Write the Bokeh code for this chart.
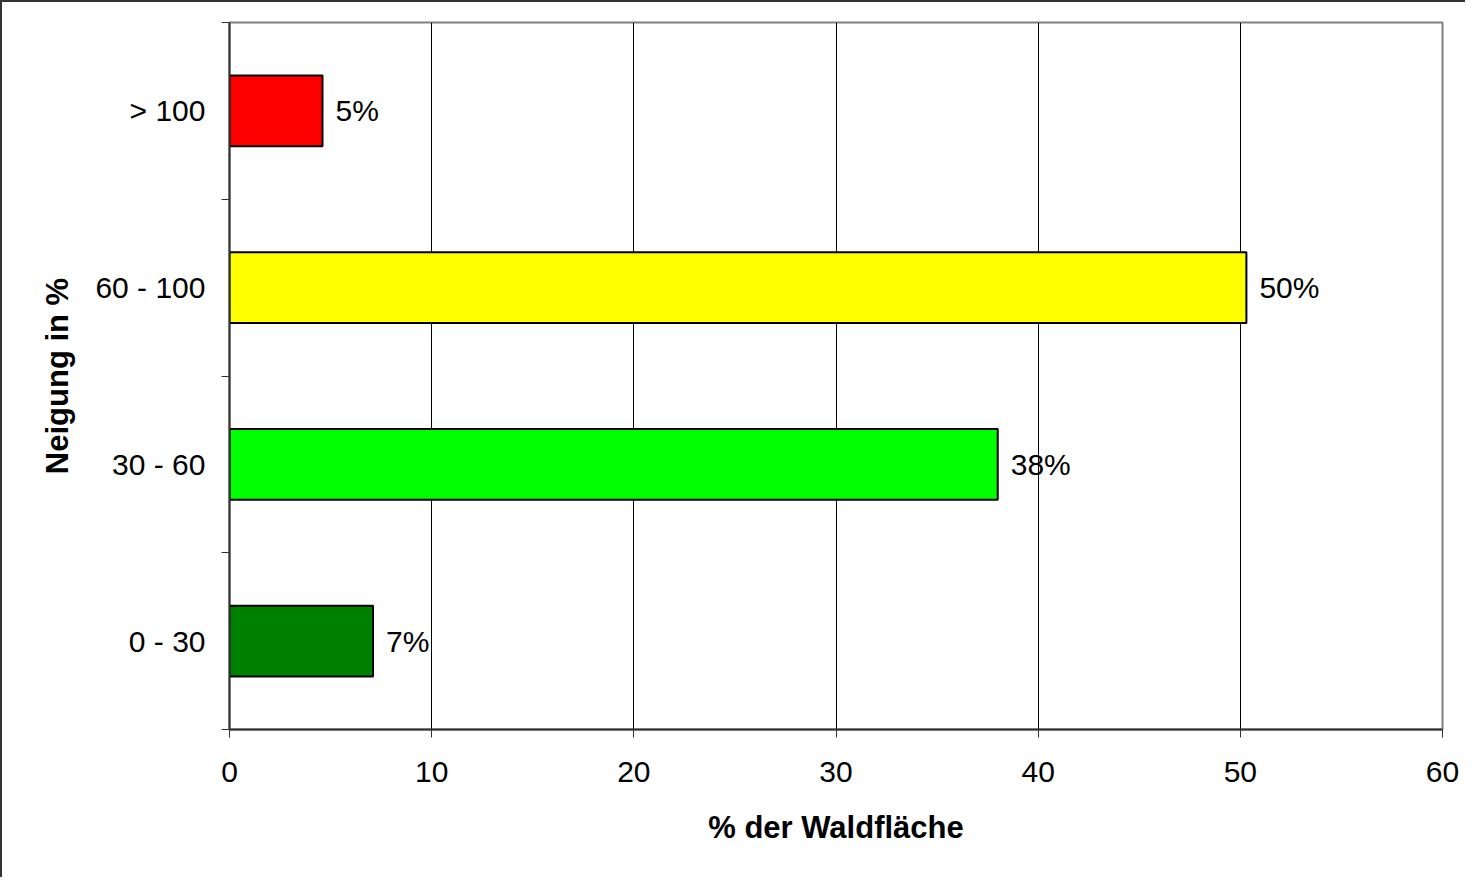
from bokeh.plotting import figure
from bokeh.models import Range1d, FixedTicker
from bokeh.core.properties import value
from bokeh.embed import file_html
from bokeh.resources import INLINE

# Data
categories = ["0 - 30", "30 - 60", "60 - 100", "> 100"]
shares = [7.1, 38.0, 50.3, 4.6]
bar_colors = ["#008000", "#00FF00", "#FFFF00", "#FF0000"]
x_ticks = [0, 10, 20, 30, 40, 50, 60]
x_title = "% der Waldfläche"
y_title = "Neigung in %"

FONT = "Liberation Sans"

ys = [i + 0.5 for i in range(len(categories))]
labels = [f"{round(v)}%" for v in shares]

p = figure(width=1465, height=877, output_backend="svg", toolbar_location=None,
           x_range=Range1d(0, 60), y_range=Range1d(0, len(categories)),
           min_border_left=227, min_border_right=25, min_border_top=20,
           min_border_bottom=150)
p.styles = {"border-left": "2px solid #333333", "border-top": "2px solid #333333"}
p.background_fill_color = "white"
p.border_fill_color = "white"
p.outline_line_color = "#808080"
p.outline_line_width = 2

p.hbar(y=ys, left=0, right=shares, height=0.4, fill_color=bar_colors,
       line_color="black", line_width=2)
p.text(x=shares, y=ys, text=labels, x_offset=13, text_baseline="middle",
       text_align="left", text_font=value(FONT), text_font_size="30px",
       text_color="black")

# x axis
p.xaxis.ticker = FixedTicker(ticks=x_ticks)
p.xaxis.major_tick_out = 8
p.xaxis.major_tick_in = 0
p.xaxis.minor_tick_line_color = None
p.xaxis.major_label_standoff = 24
p.xaxis.axis_label = x_title
p.xaxis.axis_label_text_font = FONT
p.xaxis.axis_label_text_font_style = "bold"
p.xaxis.axis_label_text_font_size = "31px"
p.xaxis.axis_label_standoff = 25

# y axis
p.yaxis.ticker = FixedTicker(ticks=ys, minor_ticks=list(range(len(categories) + 1)))
p.yaxis.major_label_overrides = {y: c for y, c in zip(ys, categories)}
p.yaxis.major_tick_out = 8
p.yaxis.major_tick_in = 0
p.yaxis.major_tick_line_color = None
p.yaxis.minor_tick_out = 8
p.yaxis.minor_tick_in = 0
p.yaxis.minor_tick_line_color = "#333333"
p.yaxis.major_label_standoff = 16
p.yaxis.axis_label = y_title
p.yaxis.axis_label_text_font = FONT
p.yaxis.axis_label_text_font_style = "bold"
p.yaxis.axis_label_text_font_size = "31px"
p.yaxis.axis_label_standoff = 17

for ax in (p.xaxis, p.yaxis):
    ax.axis_line_color = "#333333"
    ax.axis_line_width = 2
    ax.major_tick_line_width = 1
    ax.major_label_text_font = FONT
    ax.major_label_text_font_size = "30px"
    ax.major_label_text_color = "black"
    ax.axis_label_text_color = "black"

p.xaxis.major_tick_line_color = "#333333"

p.xgrid.ticker = FixedTicker(ticks=x_ticks)
p.xgrid.grid_line_color = "black"
p.xgrid.grid_line_width = 1
p.ygrid.grid_line_color = None

open("out.html", "w").write(file_html(p, INLINE))
